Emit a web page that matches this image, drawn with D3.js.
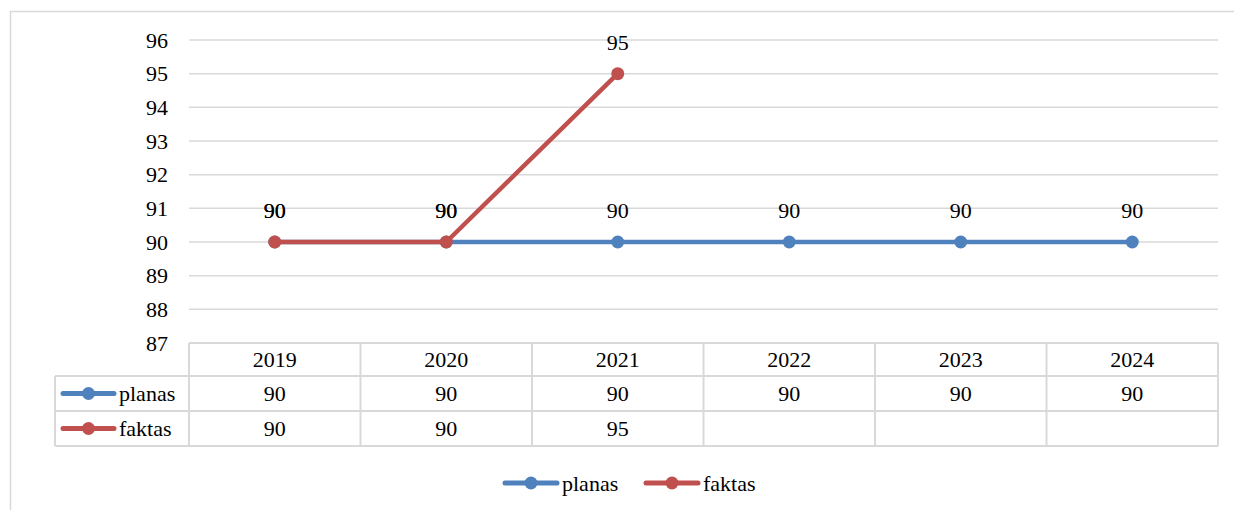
<!DOCTYPE html>
<html>
<head>
<meta charset="utf-8">
<script src="https://cdn.jsdelivr.net/npm/d3@7"></script>
</head>
<body style="margin:0">
<svg id="c" width="1234" height="510" style="font-family: 'Times New Roman', 'Liberation Serif', Tinos, serif;"></svg>
<script>
// *** Data ***
var years = ["2019", "2020", "2021", "2022", "2023", "2024"];
var planas = [90, 90, 90, 90, 90, 90];
var faktas = [90, 90, 95, null, null, null];
var yTicks = [87, 88, 89, 90, 91, 92, 93, 94, 95, 96];
var seriesNames = ["planas", "faktas"];
var seriesColors = ["#4f81bd", "#c0504d"];

var svg = d3.select("#c");
var grid = "#d9d9d9";

// small helper so every label gets the same font
function label(sel) {
    return sel.style("font-family", "'Times New Roman'").style("font-size", "22px");
}

// outer frame
svg.append("rect")
    .attr("x", 10.5).attr("y", 11.5)
    .attr("width", 1240).attr("height", 520)
    .attr("fill", "none").attr("stroke", grid).attr("stroke-width", 1.5);

var plot = {left: 189, right: 1218, top: 40, bottom: 343};

var x = d3.scaleBand().domain(years).range([plot.left, plot.right]);
var y = d3.scaleLinear().domain([87, 96]).range([plot.bottom, plot.top]);

// gridlines
svg.append("g").selectAll("line").data(yTicks).enter().append("line")
    .attr("x1", plot.left).attr("x2", plot.right)
    .attr("y1", d => y(d)).attr("y2", d => y(d))
    .attr("stroke", grid).attr("stroke-width", 1.5);

// y axis labels
label(svg.append("g").selectAll("text").data(yTicks).enter().append("text"))
    .attr("x", 168).attr("y", d => y(d))
    .attr("dy", "0.35em")
    .attr("text-anchor", "end")
    .text(d => d);

// *** Data table ***
var rowH = [343, 376, 411, 446];
var tableLeft = 55;
var tbl = svg.append("g");

// horizontal lines
tbl.append("line").attr("x1", plot.left).attr("x2", plot.right).attr("y1", rowH[0]).attr("y2", rowH[0]).attr("stroke", grid).attr("stroke-width", 2);
[1, 2, 3].forEach(function (i) {
    tbl.append("line").attr("x1", tableLeft).attr("x2", plot.right)
        .attr("y1", rowH[i]).attr("y2", rowH[i])
        .attr("stroke", grid).attr("stroke-width", 2);
});
// vertical lines
tbl.append("line").attr("x1", tableLeft).attr("x2", tableLeft).attr("y1", rowH[1]).attr("y2", rowH[3]).attr("stroke", grid).attr("stroke-width", 2);
var colEdges = years.map(d => x(d)).concat([plot.right]);
tbl.selectAll(".vline").data(colEdges).enter().append("line")
    .attr("class", "vline")
    .attr("x1", d => d).attr("x2", d => d)
    .attr("y1", rowH[0]).attr("y2", rowH[3])
    .attr("stroke", grid).attr("stroke-width", 2);

// header years
label(tbl.selectAll(".yr").data(years).enter().append("text"))
    .attr("x", d => x(d) + x.bandwidth() / 2)
    .attr("y", (rowH[0] + rowH[1]) / 2).attr("dy", "0.35em")
    .attr("text-anchor", "middle")
    .text(d => d);

var allSeries = [planas, faktas];
allSeries.forEach(function (vals, si) {
    var cy = (rowH[si + 1] + rowH[si + 2]) / 2;
    label(tbl.selectAll(".v" + si).data(vals).enter().append("text"))
        .attr("x", (d, i) => x(years[i]) + x.bandwidth() / 2)
        .attr("y", cy).attr("dy", "0.35em")
        .attr("text-anchor", "middle")
        .text(d => d == null ? "" : d);
    // legend key in the table
    tbl.append("line").attr("x1", 63).attr("x2", 114).attr("y1", cy).attr("y2", cy)
        .attr("stroke", seriesColors[si]).attr("stroke-width", 5).attr("stroke-linecap", "round");
    tbl.append("circle").attr("cx", 88.5).attr("cy", cy).attr("r", 6.5).attr("fill", seriesColors[si]);
    label(tbl.append("text")).attr("x", 119).attr("y", cy).attr("dy", "0.35em")
        .text(seriesNames[si]);
});

// *** Lines ***
var lineMaker = d3.line()
    .defined(d => d.v != null)
    .x(d => x(d.k) + x.bandwidth() / 2)
    .y(d => y(d.v));

allSeries.forEach(function (vals, si) {
    var pts = vals.map((v, i) => ({k: years[i], v: v}));
    var g = svg.append("g");
    g.append("path").attr("d", lineMaker(pts))
        .attr("fill", "none").attr("stroke", seriesColors[si])
        .attr("stroke-width", 4.5).attr("stroke-linejoin", "round").attr("stroke-linecap", "round");
    var valid = pts.filter(d => d.v != null);
    g.selectAll("circle").data(valid).enter().append("circle")
        .attr("cx", d => x(d.k) + x.bandwidth() / 2)
        .attr("cy", d => y(d.v))
        .attr("r", 6.5).attr("fill", seriesColors[si]);
    label(g.selectAll("text").data(valid).enter().append("text"))
        .attr("x", d => x(d.k) + x.bandwidth() / 2)
        .attr("y", d => y(d.v) - 24)
        .attr("text-anchor", "middle")
        .text(d => d.v);
});

// *** Bottom legend ***
var legendX = [505, 646];
legendX.forEach(function (lx, si) {
    var ly = 483;
    svg.append("line").attr("x1", lx).attr("x2", lx + 52).attr("y1", ly).attr("y2", ly)
        .attr("stroke", seriesColors[si]).attr("stroke-width", 5).attr("stroke-linecap", "round");
    svg.append("circle").attr("cx", lx + 26).attr("cy", ly).attr("r", 6.5).attr("fill", seriesColors[si]);
    label(svg.append("text")).attr("x", lx + 57).attr("y", ly).attr("dy", "0.35em")
        .text(seriesNames[si]);
});
</script>
</body>
</html>
